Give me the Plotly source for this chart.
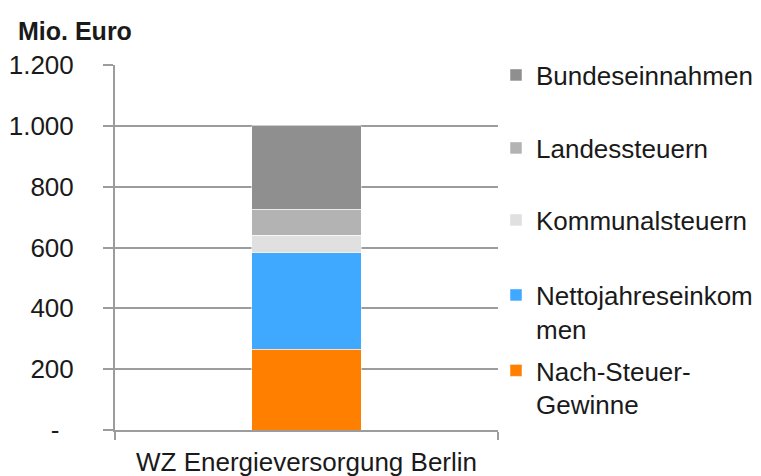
import plotly.graph_objects as go

categories = ["WZ Energieversorgung Berlin"]
series_names = ["Nach-Steuer-<br>Gewinne", "Nettojahreseinkom<br>men", "Kommunalsteuern", "Landessteuern", "Bundeseinnahmen"]
series_values = [[265], [317], [58], [85], [275]]
series_colors = ["#ff7f00", "#3fa9ff", "#e0e0e0", "#b3b3b3", "#8f8f8f"]
tick_vals = [0, 200, 400, 600, 800, 1000, 1200]
tick_text = ["-\u00a0\u00a0", "200", "400", "600", "800", "1.000", "1.200"]

FONT = "Liberation Sans, Arial, sans-serif"
GRID = "#9c9c9c"
PLOT_L, PLOT_R, PLOT_T, PLOT_B = 115, 498, 65, 430
PW, PH = PLOT_R - PLOT_L, PLOT_B - PLOT_T

# legend entry vertical centres (pixels from top)
legend_centres = [387.5, 312, 220, 148, 75]

fig = go.Figure()
legend_layouts = {}
for i, (name, vals, col) in enumerate(zip(series_names, series_values, series_colors)):
    lname = "legend" if i == 0 else f"legend{i+1}"
    fig.add_trace(go.Bar(
        x=categories, y=vals, name=name, legend=lname,
        marker=dict(color=col, line=dict(color="white", width=0.5)),
        width=0.285,
    ))
    legend_layouts[lname] = dict(
        x=(496 - PLOT_L) / PW, xanchor="left",
        y=(PLOT_B - legend_centres[i]) / PH, yanchor="middle",
        font=dict(family=FONT, size=26, color="#1a1a1a"),
        bgcolor="rgba(0,0,0,0)", itemwidth=30, valign="top",
    )

fig.update_layout(
    template="none",
    barmode="stack",
    width=761, height=476,
    margin=dict(l=PLOT_L, r=761 - PLOT_R, t=PLOT_T, b=476 - PLOT_B, autoexpand=False),
    paper_bgcolor="white", plot_bgcolor="white",
    font=dict(family=FONT, size=26, color="#1a1a1a"),
    showlegend=True,
    annotations=[dict(
        text="<b>Mio. Euro</b>", xref="paper", yref="paper",
        x=(16 - PLOT_L) / PW, xanchor="left", y=1 + 34 / PH, yanchor="middle",
        showarrow=False, font=dict(family=FONT, size=25, color="#1a1a1a"),
    )],
    **legend_layouts,
)

fig.update_yaxes(
    range=[0, 1200], tickvals=tick_vals, ticktext=tick_text,
    showgrid=True, gridcolor=GRID, gridwidth=2,
    showline=True, linecolor=GRID, linewidth=2,
    ticks="outside", ticklen=10, tickcolor=GRID, tickwidth=2,
    ticklabelstandoff=24, zeroline=False, automargin=False,
)
fig.update_xaxes(
    range=[-0.5, 0.5],
    showline=True, linecolor=GRID, linewidth=2,
    ticks="outside", tickson="boundaries", ticklen=8, tickcolor=GRID, tickwidth=2,
    ticklabelstandoff=8, showgrid=False, zeroline=False, automargin=False,
)

fig.write_html(
    "out.html",
    config={"displayModeBar": False},
    post_script="document.body.style.margin='0';document.body.style.overflow='hidden';",
)
